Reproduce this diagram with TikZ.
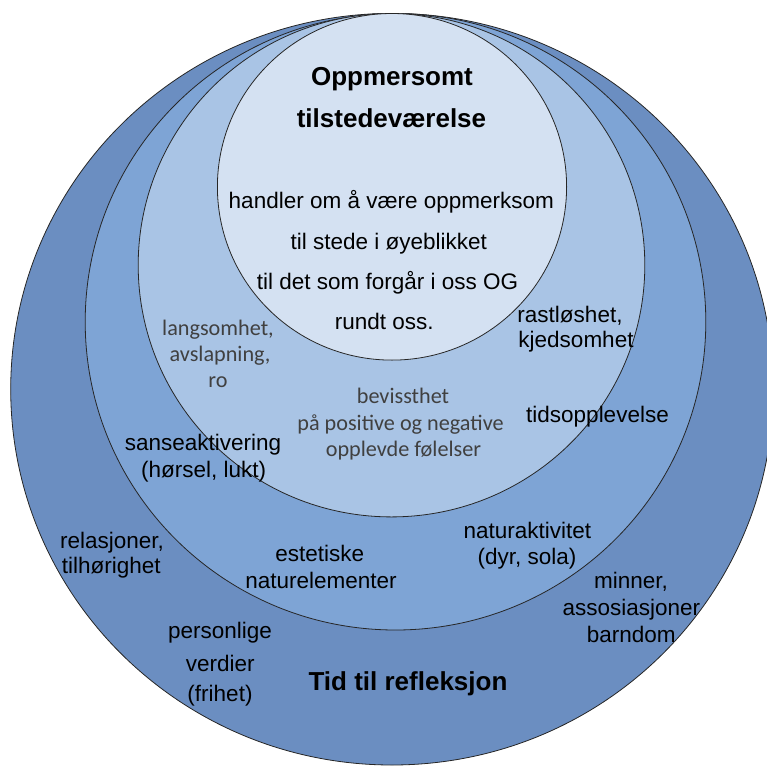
\documentclass[tikz,border=0pt]{standalone}
\usepackage{fontspec}
\setmainfont{Liberation Sans}
\newfontfamily\calfont{Carlito}
\definecolor{ringA}{HTML}{6B8EC1}
\definecolor{ringB}{HTML}{7EA4D5}
\definecolor{ringC}{HTML}{A9C4E5}
\definecolor{ringD}{HTML}{D4E1F2}
\definecolor{grayText}{HTML}{404040}
\tikzset{
  ring/.style={draw=black!85, line width=0.8pt},
  lbl/.style={anchor=base, inner sep=0pt, font=\fontsize{22.5}{26}\selectfont},
  glbl/.style={anchor=base, inner sep=0pt, text=grayText, font=\calfont\fontsize{22.2}{26}\selectfont},
  blbl/.style={anchor=base, inner sep=0pt, font=\bfseries\fontsize{26}{30}\selectfont}
}
\begin{document}
\begin{tikzpicture}[x=1pt,y=-1pt]
\useasboundingbox (0,0) rectangle (766,771);
% rings
\draw[ring, fill=ringA] (392,389.2) ellipse [x radius=381.3pt, y radius=375.8pt];
\draw[ring, fill=ringB] (395.5,321.8) ellipse [x radius=310.3pt, y radius=308.2pt];
\draw[ring, fill=ringC] (391.5,265.2) ellipse [x radius=253.3pt, y radius=251.7pt];
\draw[ring, fill=ringD] (392,186.8) ellipse [x radius=174.6pt, y radius=173.3pt];
% inner circle
\node[blbl] (t1) at (392,85) {Oppmersomt};
\node[blbl] (t2) at (391.5,127.7) {tilstedeværelse};
\node[lbl] (d1) at (391.3,208.3) {handler om å være oppmerksom};
\node[lbl] (d2) at (388.8,249) {til stede i øyeblikket};
\node[lbl] (d3) at (387.5,289) {til det som forgår i oss OG};
\node[lbl] (d4) at (384.3,329) {rundt oss.};
% third ring
\node[glbl] (l1) at (218,335) {langsomhet,};
\node[glbl] (l2) at (220,361.7) {avslapning,};
\node[glbl] (l3) at (218,387.3) {ro};
\node[lbl] (r1) at (570,322.3) {rastløshet,};
\node[lbl] (r2) at (576,347.3) {kjedsomhet};
\node[glbl] (b1) at (403,403.3) {bevissthet};
\node[glbl] (b2) at (400.5,430) {på positive og negative};
\node[glbl] (b3) at (403.5,456.7) {opplevde følelser};
\node[lbl] (ts) at (597.5,422.7) {tidsopplevelse};
% second ring
\node[lbl] (s1) at (203,450.7) {sanseaktivering};
\node[lbl] (s2) at (203.7,477.3) {(hørsel, lukt)};
\node[lbl] (e1) at (319.7,561.7) {estetiske};
\node[lbl] (e2) at (321,588.3) {naturelementer};
\node[lbl] (n1) at (527.3,538) {naturaktivitet};
\node[lbl] (n2) at (527,564) {(dyr, sola)};
% outer ring
\node[lbl] (re1) at (112,548.3) {relasjoner,};
\node[lbl] (re2) at (111.3,573.3) {tilhørighet};
\node[lbl] (m1) at (631,588.3) {minner,};
\node[lbl] (m2) at (631.3,615) {assosiasjoner};
\node[lbl] (m3) at (631.3,642.3) {barndom};
\node[lbl] (p1) at (220,638.3) {personlige};
\node[lbl] (p2) at (220.3,671.7) {verdier};
\node[lbl] (p3) at (220,701.7) {(frihet)};
\node[blbl] (tid) at (408,690.7) {Tid til refleksjon};
\end{tikzpicture}
\end{document}
